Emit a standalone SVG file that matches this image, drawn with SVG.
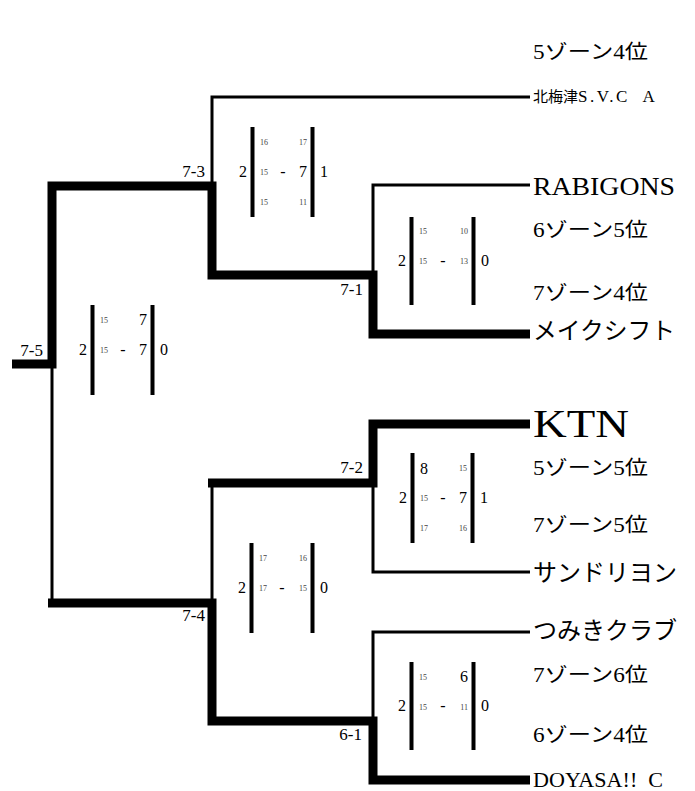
<svg xmlns="http://www.w3.org/2000/svg" width="695" height="791" viewBox="0 0 695 791">
<style>
text{font-family:"Liberation Serif","Noto Sans CJK JP",serif;fill:#000}
.thick{fill:none;stroke:#000;stroke-width:9;stroke-linejoin:miter}
.thin{fill:none;stroke:#000;stroke-width:3;stroke-linejoin:miter}
.bar{fill:#000}
.set{font-size:16px}
.sm{font-size:8px;fill:#444}
.big{font-size:16px}
.dash{font-size:16px}
.rnd{font-size:17px;text-anchor:end}
.team{font-size:20px}
.name{font-size:24px}
</style>
<rect width="695" height="791" fill="#fff"/>
<g id="connectors">
<path class="thin" d="M52,364 V603"/>
<path class="thin" d="M212,182 V97 H530"/>
<path class="thin" d="M373,271 V185 H530"/>
<path class="thin" d="M373,487 V572 H530"/>
<path class="thin" d="M212,483 V603"/>
<path class="thin" d="M373,721 V632 H530"/>
<path class="thick" d="M12,364 H52 V186 H212 V275 H373 V334 H530"/>
<path class="thick" d="M208,483 H373 V424 H530"/>
<path class="thick" d="M48,603 H212 V721 H373 V780 H530"/>
</g>
<g id="round-labels">
<text class="rnd" x="43" y="356">7-5</text>
<text class="rnd" x="205" y="177">7-3</text>
<text class="rnd" x="363" y="295">7-1</text>
<text class="rnd" x="363" y="473">7-2</text>
<text class="rnd" x="205" y="621">7-4</text>
<text class="rnd" x="362" y="740">6-1</text>
</g>
<g id="score-7-5" transform="translate(92,350)">
<rect class="bar" x="-1.5" y="-45" width="4" height="90"/>
<rect class="bar" x="58.5" y="-45" width="4" height="90"/>
<text class="set" x="-5" y="5" text-anchor="end">2</text>
<text class="set" x="68" y="5">0</text>
<text class="sm" x="8" y="-27">15</text>
<text class="big" x="55" y="-25" text-anchor="end">7</text>
<text class="sm" x="8" y="3">15</text>
<text class="dash" x="31" y="5" text-anchor="middle">-</text>
<text class="big" x="55" y="5" text-anchor="end">7</text>
</g>
<g id="score-7-3" transform="translate(252,172)">
<rect class="bar" x="-1.5" y="-45" width="4" height="90"/>
<rect class="bar" x="58.5" y="-45" width="4" height="90"/>
<text class="set" x="-5" y="5" text-anchor="end">2</text>
<text class="set" x="68" y="5">1</text>
<text class="sm" x="8" y="-27">16</text>
<text class="sm" x="55" y="-27" text-anchor="end">17</text>
<text class="sm" x="8" y="3">15</text>
<text class="dash" x="31" y="5" text-anchor="middle">-</text>
<text class="big" x="55" y="5" text-anchor="end">7</text>
<text class="sm" x="8" y="33">15</text>
<text class="sm" x="55" y="33" text-anchor="end">11</text>
</g>
<g id="score-7-1" transform="translate(411,261)">
<rect class="bar" x="-1.5" y="-44" width="4" height="88"/>
<rect class="bar" x="60.5" y="-44" width="4" height="88"/>
<text class="set" x="-5" y="5" text-anchor="end">2</text>
<text class="set" x="70" y="5">0</text>
<text class="sm" x="8" y="-27">15</text>
<text class="sm" x="57" y="-27" text-anchor="end">10</text>
<text class="sm" x="8" y="3">15</text>
<text class="dash" x="32" y="5" text-anchor="middle">-</text>
<text class="sm" x="57" y="3" text-anchor="end">13</text>
</g>
<g id="score-7-2" transform="translate(412,498)">
<rect class="bar" x="-1.5" y="-45" width="4" height="90"/>
<rect class="bar" x="58.5" y="-45" width="4" height="90"/>
<text class="set" x="-5" y="5" text-anchor="end">2</text>
<text class="set" x="68" y="5">1</text>
<text class="big" x="8" y="-24">8</text>
<text class="sm" x="55" y="-27" text-anchor="end">15</text>
<text class="sm" x="8" y="3">15</text>
<text class="dash" x="31" y="5" text-anchor="middle">-</text>
<text class="big" x="55" y="5" text-anchor="end">7</text>
<text class="sm" x="8" y="33">17</text>
<text class="sm" x="55" y="33" text-anchor="end">16</text>
</g>
<g id="score-7-4" transform="translate(251,588)">
<rect class="bar" x="-1.5" y="-45" width="4" height="90"/>
<rect class="bar" x="59.5" y="-45" width="4" height="90"/>
<text class="set" x="-5" y="5" text-anchor="end">2</text>
<text class="set" x="69" y="5">0</text>
<text class="sm" x="8" y="-27">17</text>
<text class="sm" x="56" y="-27" text-anchor="end">16</text>
<text class="sm" x="8" y="3">17</text>
<text class="dash" x="31" y="5" text-anchor="middle">-</text>
<text class="sm" x="56" y="3" text-anchor="end">15</text>
</g>
<g id="score-6-1" transform="translate(411,706)">
<rect class="bar" x="-1.5" y="-44" width="4" height="88"/>
<rect class="bar" x="60.5" y="-44" width="4" height="88"/>
<text class="set" x="-5" y="5" text-anchor="end">2</text>
<text class="set" x="70" y="5">0</text>
<text class="sm" x="8" y="-26">15</text>
<text class="big" x="57" y="-24" text-anchor="end">6</text>
<text class="sm" x="8" y="4">15</text>
<text class="dash" x="32" y="5" text-anchor="middle">-</text>
<text class="sm" x="57" y="4" text-anchor="end">11</text>
</g>
<g id="team-kitaumezu">
<text class="team" x="533" y="59" textLength="115" lengthAdjust="spacingAndGlyphs">5ゾーン4位</text>
<text x="533" y="102" font-size="15">北梅津<tspan font-size="17" letter-spacing="2.5" xml:space="preserve">S.V.C  A</tspan></text>
</g>
<g id="team-rabigons">
<text x="533" y="195" font-size="25" textLength="142" lengthAdjust="spacingAndGlyphs">RABIGONS</text>
<text class="team" x="533" y="237" textLength="115" lengthAdjust="spacingAndGlyphs">6ゾーン5位</text>
</g>
<g id="team-makeshift">
<text class="team" x="533" y="300" textLength="115" lengthAdjust="spacingAndGlyphs">7ゾーン4位</text>
<text class="name" x="533" y="339" textLength="142" lengthAdjust="spacingAndGlyphs">メイクシフト</text>
</g>
<g id="team-ktn">
<text x="533" y="437" font-size="40" textLength="96" lengthAdjust="spacingAndGlyphs">KTN</text>
<text class="team" x="533" y="475" textLength="115" lengthAdjust="spacingAndGlyphs">5ゾーン5位</text>
</g>
<g id="team-cendrillon">
<text class="team" x="533" y="532" textLength="115" lengthAdjust="spacingAndGlyphs">7ゾーン5位</text>
<text class="name" x="533" y="581" textLength="144" lengthAdjust="spacingAndGlyphs">サンドリヨン</text>
</g>
<g id="team-tsumiki">
<text class="name" x="533" y="639" textLength="144" lengthAdjust="spacingAndGlyphs">つみきクラブ</text>
<text class="team" x="533" y="682" textLength="115" lengthAdjust="spacingAndGlyphs">7ゾーン6位</text>
</g>
<g id="team-doyasa">
<text class="team" x="533" y="742" textLength="115" lengthAdjust="spacingAndGlyphs">6ゾーン4位</text>
<text x="533" y="787" font-size="21" textLength="130" lengthAdjust="spacingAndGlyphs" xml:space="preserve">DOYASA!!  C</text>
</g>
</svg>
